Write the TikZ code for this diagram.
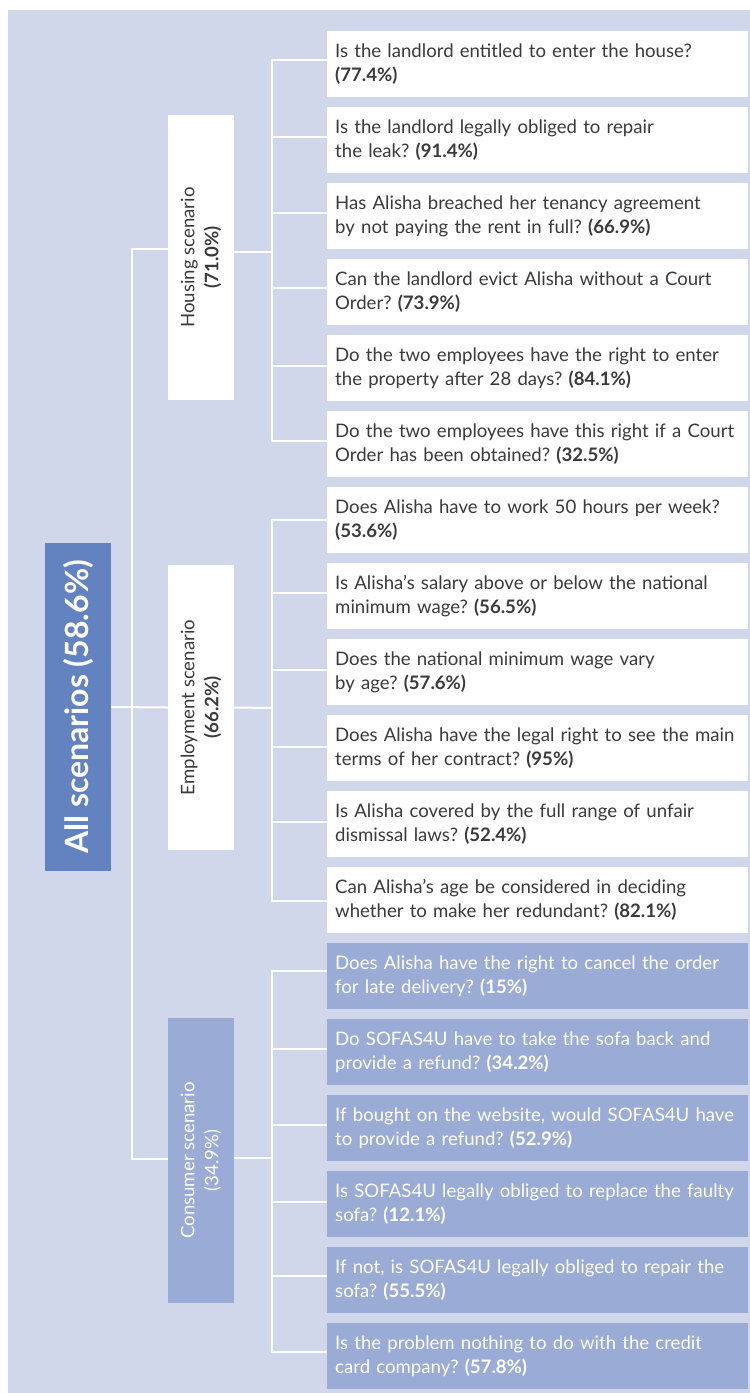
\documentclass[tikz,border=0pt]{standalone}
\usepackage{fontspec}
\setmainfont{Lato}
\usetikzlibrary{positioning}
\frenchspacing

\definecolor{panelblue}{HTML}{D0D7EB}
\definecolor{rootblue}{HTML}{6283C0}
\definecolor{consumerblue}{HTML}{9AABD6}
\definecolor{textgrey}{HTML}{3A3A3A}

\begin{document}
\begin{tikzpicture}[x=1pt,y=-1pt,
    question/.style={fill=white,text=textgrey,minimum width=421pt,minimum height=66pt,
      text width=405pt,inner xsep=8pt,inner ysep=0pt,align=left,
      font=\fontsize{18.6}{24}\selectfont},
    consumerq/.style={question,fill=consumerblue,text=white},
    scenario/.style={fill=white,text=textgrey,rotate=90,minimum width=285pt,
      minimum height=66pt,align=center,font=\fontsize{18.6}{24}\selectfont},
    consumerbox/.style={scenario,fill=consumerblue,text=white},
    rootbox/.style={fill=rootblue,text=white,rotate=90,minimum width=328pt,
      minimum height=66pt,font=\fontsize{32}{36}\selectfont\bfseries},
    link/.style={draw=white,line width=2pt}]
      \useasboundingbox (0,0) rectangle (750,1393);
      \fill[panelblue] (8,10) rectangle (750,1393);

      \node[rootbox] (all) at (78,707) {All scenarios (58.6\%)};
      \node[scenario] (housing) at (201,257.5) {Housing scenario\\\textbf{(71.0\%)}};
      \node[scenario] (employment) at (201,707.5) {Employment scenario\\\textbf{(66.2\%)}};
      \node[consumerbox] (consumer) at (201,1160.5) {Consumer scenario\\(34.9\%)};

      \node[question,anchor=north west] (q1) at (327,31) {Is the landlord entitled to enter the house?\\\textbf{(77.4\%)}};
      \node[question,below=9.6pt of q1] (q2) {Is the landlord legally obliged to repair\\the leak? \textbf{(91.4\%)}};
      \node[question,below=9.6pt of q2] (q3) {Has Alisha breached her tenancy agreement\\by not paying the rent in full? \textbf{(66.9\%)}};
      \node[question,below=9.6pt of q3] (q4) {Can the landlord evict Alisha without a Court\\Order? \textbf{(73.9\%)}};
      \node[question,below=9.6pt of q4] (q5) {Do the two employees have the right to enter\\the property after 28 days? \textbf{(84.1\%)}};
      \node[question,below=9.6pt of q5] (q6) {Do the two employees have this right if a Court\\Order has been obtained? \textbf{(32.5\%)}};
      \node[question,below=9.6pt of q6] (q7) {Does Alisha have to work 50 hours per week?\\\textbf{(53.6\%)}};
      \node[question,below=9.6pt of q7] (q8) {Is Alisha’s salary above or below the national\\minimum wage? \textbf{(56.5\%)}};
      \node[question,below=9.6pt of q8] (q9) {Does the national minimum wage vary\\by age? \textbf{(57.6\%)}};
      \node[question,below=9.6pt of q9] (q10) {Does Alisha have the legal right to see the main\\terms of her contract? \textbf{(95\%)}};
      \node[question,below=9.6pt of q10] (q11) {Is Alisha covered by the full range of unfair\\dismissal laws? \textbf{(52.4\%)}};
      \node[question,below=9.6pt of q11] (q12) {Can Alisha’s age be considered in deciding\\whether to make her redundant? \textbf{(82.1\%)}};
      \node[consumerq,below=9.6pt of q12] (q13) {Does Alisha have the right to cancel the order\\for late delivery? \textbf{(15\%)}};
      \node[consumerq,below=9.6pt of q13] (q14) {Do SOFAS4U have to take the sofa back and\\provide a refund? \textbf{(34.2\%)}};
      \node[consumerq,below=9.6pt of q14] (q15) {If bought on the website, would SOFAS4U have\\to provide a refund? \textbf{(52.9\%)}};
      \node[consumerq,below=9.6pt of q15] (q16) {Is SOFAS4U legally obliged to replace the faulty\\sofa? \textbf{(12.1\%)}};
      \node[consumerq,below=9.6pt of q16] (q17) {If not, is SOFAS4U legally obliged to repair the\\sofa? \textbf{(55.5\%)}};
      \node[consumerq,below=9.6pt of q17] (q18) {Is the problem nothing to do with the credit\\card company? \textbf{(57.8\%)}};

      \coordinate (trunk) at (132,708);
      \coordinate (hjoin) at (272,252);
      \coordinate (ejoin) at (272,708);
      \coordinate (cjoin) at (272,1157.5);

      \draw[link] (all.south) -- (employment.north);
      \draw[link] ([yshift=9pt]housing.north) -| (trunk);
      \draw[link] ([yshift=1.5pt]consumer.north) -| (trunk);
      \draw[link] (housing.south |- hjoin) -- (hjoin);
      \draw[link] (employment.south) -- (ejoin);
      \draw[link] (consumer.south |- cjoin) -- (cjoin);

      \draw[link] ([yshift=-29pt]q1.north west) -| (hjoin);
      \draw[link] ([yshift=-30pt]q2.north west) -| (hjoin);
      \draw[link] ([yshift=-30pt]q3.north west) -| (hjoin);
      \draw[link] ([yshift=-29pt]q4.north west) -| (hjoin);
      \draw[link] ([yshift=-31pt]q5.north west) -| (hjoin);
      \draw[link] ([yshift=-30pt]q6.north west) -| (hjoin);
      \draw[link] ([yshift=-33pt]q7.north west) -| (ejoin);
      \draw[link] ([yshift=-30pt]q8.north west) -| (ejoin);
      \draw[link] ([yshift=-31pt]q9.north west) -| (ejoin);
      \draw[link] ([yshift=-32pt]q10.north west) -| (ejoin);
      \draw[link] ([yshift=-31pt]q11.north west) -| (ejoin);
      \draw[link] ([yshift=-34pt]q12.north west) -| (ejoin);
      \draw[link] ([yshift=-28pt]q13.north west) -| (cjoin);
      \draw[link] ([yshift=-30pt]q14.north west) -| (cjoin);
      \draw[link] ([yshift=-30pt]q15.north west) -| (cjoin);
      \draw[link] ([yshift=-31pt]q16.north west) -| (cjoin);
      \draw[link] ([yshift=-29pt]q17.north west) -| (cjoin);
      \draw[link] ([yshift=-29pt]q18.north west) -| (cjoin);
    \end{tikzpicture}
\end{document}
